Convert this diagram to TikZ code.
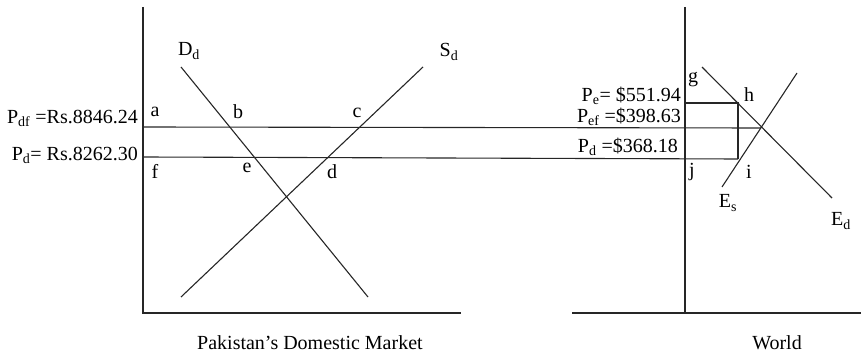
\documentclass[tikz,border=0pt]{standalone}
\usepackage{fontspec}
\setmainfont{Liberation Serif}
\begin{document}
\begin{tikzpicture}[x=1pt,y=-1pt,
  ln/.style={line width=1.1pt,black!85},
  lbl/.style={font=\fontsize{20}{23}\selectfont,inner sep=0pt},
  rlbl/.style={lbl,anchor=east}]
\useasboundingbox (0,0) rectangle (863,355);
% left market
\coordinate (LT) at (143,7);
\coordinate (LO) at (143,313);
\coordinate (LR) at (461,313);
\draw[ln] (LT) -- (LO) -- (LR);
\coordinate (D1) at (181,67); \coordinate (D2) at (368,297);
\coordinate (S1) at (181,297); \coordinate (S2) at (423,67);
\draw[ln] (D1) -- (D2);
\draw[ln] (S1) -- (S2);
% world
\coordinate (WT) at (685,7);
\coordinate (WB) at (685,313);
\coordinate (WL) at (572,313);
\coordinate (WR) at (861,313);
\draw[ln] (WT) -- (WB);
\draw[ln] (WL) -- (WR);
\coordinate (E1) at (702,67); \coordinate (E2) at (832,198);
\coordinate (F1) at (722,187); \coordinate (F2) at (797,73);
\draw[ln] (E1) -- (E2);
\draw[ln] (F1) -- (F2);
% price lines
\coordinate (PA) at (143,127); \coordinate (PX) at (761,128);
\coordinate (PF) at (143,157); \coordinate (PJ) at (738,159);
\coordinate (PG) at (685,103); \coordinate (PH) at (738,103);
\draw[ln] (PA) -- (PX);
\draw[ln] (PF) -- (PJ);
\draw[ln] (PG) -- (PH) -- (PJ);
% labels left
\node[lbl] (Dd) at (189,51) {D\textsubscript{d}};
\node[lbl] (Sd) at (449,52) {S\textsubscript{d}};
\node[lbl] (a) at (155,112) {a};
\node[lbl] (b) at (238,112) {b};
\node[lbl] (c) at (357,113) {c};
\node[lbl] (f) at (155,171) {f};
\node[lbl] (e) at (247,168) {e};
\node[lbl] (d) at (332,172) {d};
\node[rlbl] (Pdf) at (138,118) {P\textsubscript{df} =Rs.8846.24};
\node[rlbl] (Pd) at (138,155) {P\textsubscript{d}= Rs.8262.30};
% labels world
\node[lbl] (g) at (693,80) {g};
\node[lbl] (h) at (749,95) {h};
\node[lbl] (i) at (749,172) {i};
\node[lbl] (j) at (692,172) {j};
\node[rlbl] (Pe) at (681,96) {P\textsubscript{e}= \$551.94};
\node[rlbl] (Pef) at (681,117) {P\textsubscript{ef} =\$398.63};
\node[rlbl] (Pdw) at (678,147) {P\textsubscript{d} =\$368.18};
\node[lbl] (Es) at (728,203) {E\textsubscript{s}};
\node[lbl] (Ed) at (841,221) {E\textsubscript{d}};
% titles
\node[lbl,anchor=west] (tl) at (197,343) {Pakistan’s Domestic Market};
\node[lbl] (tr) at (777,343) {World};
\end{tikzpicture}
\end{document}
